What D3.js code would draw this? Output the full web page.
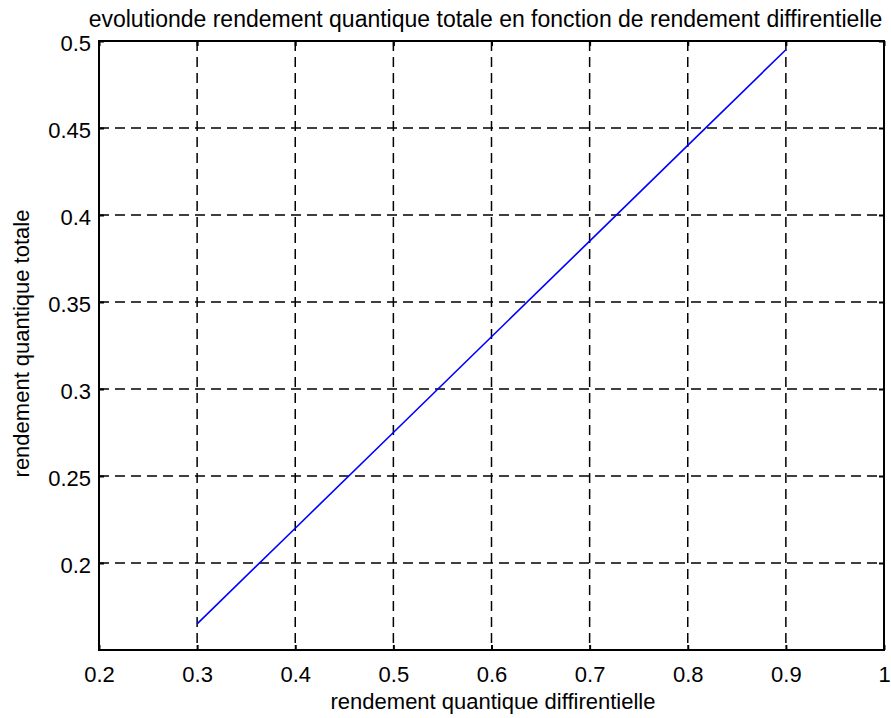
<!DOCTYPE html>
<html lang="en">
<head>
    <meta charset="UTF-8">
    <title>evolutionde rendement quantique totale</title>
    <script src="https://d3js.org/d3.v7.min.js"></script>
    <style>
        body { margin: 0; background: #fff; }
        svg { display: block; font-family: Arial, "Liberation Sans", sans-serif; font-variant-ligatures: none; }
        text { fill: #000; }
        .grid line { stroke: #000; stroke-width: 1.5; stroke-dasharray: 10,6; }
    </style>
</head>
<body>
    <svg width="891" height="718"></svg>
    <script>
        const xValues = [0.3, 0.4, 0.5, 0.6, 0.7, 0.8, 0.9];
        const yValues = [0.165, 0.22, 0.275, 0.33, 0.385, 0.44, 0.495];
        const xTicks = [0.2, 0.3, 0.4, 0.5, 0.6, 0.7, 0.8, 0.9, 1];
        const yTicks = [0.2, 0.25, 0.3, 0.35, 0.4, 0.45, 0.5];
        const xTickLabels = ["0.2", "0.3", "0.4", "0.5", "0.6", "0.7", "0.8", "0.9", "1"];
        const yTickLabels = ["0.2", "0.25", "0.3", "0.35", "0.4", "0.45", "0.5"];

        const svg = d3.select("svg"),
              margin = { top: 41, right: 7, bottom: 68, left: 99 },
              width = +svg.attr("width") - margin.left - margin.right,
              height = +svg.attr("height") - margin.top - margin.bottom,
              g = svg.append("g").attr("transform", `translate(${margin.left},${margin.top})`);

        const x = d3.scaleLinear().domain([0.2, 1]).range([0, width]);
        const y = d3.scaleLinear().domain([0.15, 0.5]).range([height, 0]);

        // dashed grid
        const grid = g.append("g").attr("class", "grid");
        grid.selectAll(".gx")
            .data(xTicks.slice(1, -1))
            .enter().append("line")
            .attr("x1", d => x(d)).attr("x2", d => x(d))
            .attr("y1", 0).attr("y2", height);
        grid.selectAll(".gy")
            .data(yTicks.slice(0, -1))
            .enter().append("line")
            .attr("x1", 0).attr("x2", width)
            .attr("y1", d => y(d)).attr("y2", d => y(d));

        // axes, ticks pointing inward like matlab
        const fmtX = (d, i) => xTickLabels[i];
        const fmtY = (d, i) => yTickLabels[i];

        const xAxis = g.append("g")
            .attr("transform", `translate(0,${height})`)
            .call(d3.axisBottom(x).tickValues(xTicks).tickFormat(fmtX).tickSizeInner(-5).tickSizeOuter(0).tickPadding(16));
        const xTop = g.append("g")
            .call(d3.axisTop(x).tickValues(xTicks).tickFormat("").tickSizeInner(-5).tickSizeOuter(0));
        const yAxis = g.append("g")
            .call(d3.axisLeft(y).tickValues(yTicks).tickFormat(fmtY).tickSizeInner(-5).tickSizeOuter(0).tickPadding(8));
        const yRight = g.append("g")
            .attr("transform", `translate(${width},0)`)
            .call(d3.axisRight(y).tickValues(yTicks).tickFormat("").tickSizeInner(-5).tickSizeOuter(0));

        [xAxis, xTop, yAxis, yRight].forEach(a => {
            a.select(".domain").remove();
            a.selectAll(".tick line").attr("stroke", "#000").attr("stroke-width", 2);
            a.selectAll("text")
                .attr("font-size", 22)
                .attr("font-family", "Arial, 'Liberation Sans', sans-serif")
                .attr("fill", "#000");
        });
        yAxis.selectAll("text").attr("dy", "0.44em");

        // box
        g.append("rect")
            .attr("width", width).attr("height", height)
            .attr("fill", "none").attr("stroke", "#000").attr("stroke-width", 2);

        // data line
        const line = d3.line().x((d, i) => x(xValues[i])).y(d => y(d));
        g.append("path")
            .datum(yValues)
            .attr("fill", "none")
            .attr("stroke", "#0000ff")
            .attr("stroke-width", 1.6)
            .attr("d", line);

        // labels
        svg.append("text")
            .attr("x", 485.5)
            .attr("y", 26.5)
            .attr("text-anchor", "middle")
            .attr("font-size", 23)
            .text("evolutionde rendement quantique totale en fonction de rendement diffirentielle");

        svg.append("text")
            .attr("x", 493)
            .attr("y", 709)
            .attr("text-anchor", "middle")
            .attr("font-size", 22)
            .text("rendement quantique diffirentielle");

        svg.append("text")
            .attr("transform", `translate(28.5,${margin.top + height / 2 - 2}) rotate(-90)`)
            .attr("text-anchor", "middle")
            .attr("font-size", 22)
            .text("rendement quantique totale");
    </script>
</body>
</html>
